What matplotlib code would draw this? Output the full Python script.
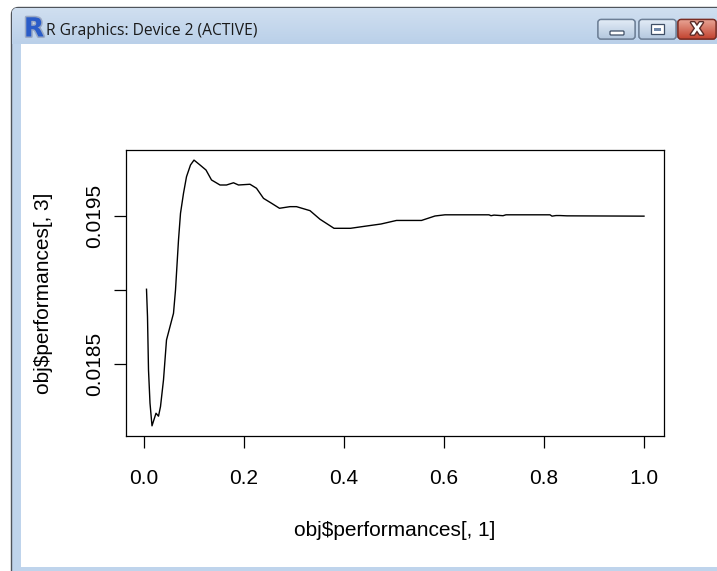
import numpy as np
import matplotlib
matplotlib.use("Agg")
import matplotlib.pyplot as plt
from matplotlib.patches import FancyBboxPatch, Rectangle
import matplotlib.patheffects as pe

# ---------------- data ----------------
perf_x = [0.005, 0.007, 0.009, 0.012, 0.016, 0.024, 0.029, 0.033, 0.039, 0.045,
          0.052, 0.059, 0.063, 0.069, 0.073, 0.079, 0.085, 0.093, 0.100, 0.112,
          0.124, 0.135, 0.152, 0.165, 0.179, 0.189, 0.212, 0.225, 0.239, 0.255,
          0.271, 0.292, 0.305, 0.332, 0.352, 0.380, 0.413, 0.440, 0.474, 0.505,
          0.555, 0.582, 0.602, 0.690, 0.694, 0.700, 0.718, 0.724, 0.812, 0.816,
          0.824, 0.832, 0.846, 1.000]
perf_y = [0.019006, 0.018821, 0.018462, 0.018238, 0.018085, 0.018170, 0.018150,
          0.018215, 0.018395, 0.018664, 0.018754, 0.018844, 0.019001, 0.019338,
          0.019518, 0.019653, 0.019765, 0.019844, 0.019877, 0.019844, 0.019810,
          0.019743, 0.019709, 0.019709, 0.019724, 0.019709, 0.019714, 0.019687,
          0.019619, 0.019586, 0.019552, 0.019563, 0.019563, 0.019536, 0.019478,
          0.019417, 0.019417, 0.019430, 0.019446, 0.019470, 0.019470, 0.019500,
          0.019508, 0.019508, 0.019502, 0.019506, 0.019502, 0.019508, 0.019508,
          0.019499, 0.019503, 0.019503, 0.019501, 0.019499]
x_ticks = [0.0, 0.2, 0.4, 0.6, 0.8, 1.0]
x_tick_labels = ["0.0", "0.2", "0.4", "0.6", "0.8", "1.0"]
y_ticks = [0.0185, 0.0190, 0.0195]
y_tick_labels = ["0.0185", "", "0.0195"]
x_label = "obj$performances[, 1]"
y_label = "obj$performances[, 3]"
window_title = "R Graphics: Device 2 (ACTIVE)"

W, H = 717, 571
fig = plt.figure(figsize=(W / 100, H / 100), dpi=100)
fig.patch.set_facecolor("white")

# ---------------- window chrome ----------------
bg = fig.add_axes([0, 0, 1, 1], zorder=0)
bg.set_xlim(0, W)
bg.set_ylim(H, 0)
bg.axis("off")

frame_col = "#bfd4ec"
win = FancyBboxPatch((11.5, 7.5), 760, 600, boxstyle="round,pad=0,rounding_size=7",
                     facecolor=frame_col, edgecolor="#4f545b", lw=1.0)
bg.add_patch(win)


def gradient(ax, x0, x1, y0, y1, c_top, c_bot, clip=None, z=1):
    from matplotlib.colors import to_rgb
    t = np.linspace(0, 1, 64)[:, None]
    a, b = np.array(to_rgb(c_top)), np.array(to_rgb(c_bot))
    img = (a[None, None, :] * (1 - t[..., None]) + b[None, None, :] * t[..., None])
    im = ax.imshow(img, extent=(x0, x1, y1, y0), aspect="auto", zorder=z,
                   interpolation="bilinear")
    if clip is not None:
        im.set_clip_path(clip)
    return im


gradient(bg, 12, W, 8, 44, "#d0dff0", "#bad0e9", clip=win, z=1)
bg.add_patch(Rectangle((21, 44), W, 522.5, facecolor="white", edgecolor="none", zorder=2))

# R icon
bg.text(34, 29.5, "R", fontsize=19, fontweight="bold", family="DejaVu Sans",
        color="#2a5cc8", ha="center", va="center", zorder=3,
        path_effects=[pe.withStroke(linewidth=2.2, foreground="#9aa9c4")])

title = bg.text(46.5, 31, window_title, fontsize=10.5, family="Open Sans",
                color="#1a1a1a", ha="left", va="center", zorder=3)

# buttons
def button(x0, w, c_top, c_bot, edge):
    p = FancyBboxPatch((x0, 19.5), w, 19.5, boxstyle="round,pad=0,rounding_size=3",
                       facecolor=c_bot, edgecolor=edge, lw=1.0, zorder=3)
    bg.add_patch(p)
    gradient(bg, x0, x0 + w, 19.5, 39, c_top, c_bot, clip=p, z=3)
    p2 = FancyBboxPatch((x0, 19.5), w, 19.5, boxstyle="round,pad=0,rounding_size=3",
                        facecolor="none", edgecolor=edge, lw=1.0, zorder=4)
    bg.add_patch(p2)


button(598, 37, "#e4edf7", "#b3c7de", "#6d7f96")
button(639, 37, "#e4edf7", "#b3c7de", "#6d7f96")
button(678, 38, "#e9a697", "#c2432f", "#7a2d24")
# minimize glyph
bg.add_patch(FancyBboxPatch((610, 31), 14, 4, boxstyle="round,pad=0,rounding_size=1",
                            facecolor="white", edgecolor="#3f4f66", lw=0.9, zorder=5))
# maximize glyph
bg.add_patch(Rectangle((651, 24), 13, 9.5, facecolor="white", edgecolor="#3f4f66",
                       lw=0.9, zorder=5))
bg.add_patch(Rectangle((654, 27.5), 7, 3, facecolor="#6f87a8", edgecolor="none", zorder=6))
# close glyph
bg.text(697, 29.5, "X", fontsize=12, fontweight="bold", family="DejaVu Sans",
        color="white", ha="center", va="center", zorder=5,
        path_effects=[pe.withStroke(linewidth=2.0, foreground="#5a2a26")])

# ---------------- plot ----------------
L, R_, T, B = 126, 664, 150, 436
ax = fig.add_axes([L / W, (H - B) / H, (R_ - L) / W, (B - T) / H], zorder=5)
ax.patch.set_alpha(0)
ax.plot(perf_x, perf_y, color="black", lw=1.0)
ax.set_xlim(-0.036, 1.04)
ax.set_ylim(0.0180165, 0.019945)

fs = 15
tick_font = dict(family="Liberation Sans", size=fs)
ax.set_xticks(x_ticks)
ax.set_xticklabels(x_tick_labels, fontdict=tick_font)
ax.set_yticks(y_ticks)
ax.set_yticklabels(y_tick_labels, fontdict=tick_font, rotation=90, va="center", ha="right")
ax.tick_params(axis="both", direction="out", length=8.6, width=0.9, color="black")
ax.tick_params(axis="x", pad=15)
ax.tick_params(axis="y", pad=7)
for s in ax.spines.values():
    s.set_linewidth(0.9)
    s.set_color("black")

ax.set_xlabel(x_label, family="Liberation Sans", fontsize=fs, va="center")
ax.xaxis.set_label_coords(0.5, (B - 530) / (B - T))
ax.set_ylabel(y_label, family="Liberation Sans", fontsize=fs, va="center")
ax.yaxis.set_label_coords((44 - L) / (R_ - L), 0.5)

# fit window title to its width in the screenshot
fig.canvas.draw()
bb = title.get_window_extent()
title.set_fontsize(10.5 * 212 / bb.width)

fig.savefig("out.png", dpi=100, facecolor="white")
